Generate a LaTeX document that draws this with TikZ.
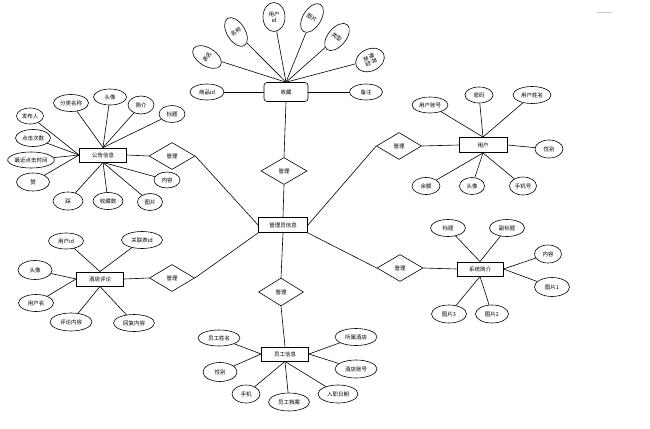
\documentclass[tikz,border=0pt]{standalone}
\usepackage{fontspec}
\newfontfamily\cjk{Noto Sans CJK SC}
\usetikzlibrary{shapes.geometric}
\begin{document}
\begin{tikzpicture}[x=1pt,y=-1pt,
  every node/.style={font=\cjk\fontsize{5.5}{6.5}\selectfont},
  attr/.style={ellipse,draw,line width=0.6pt,inner sep=0pt},
  ent/.style={rectangle,draw,line width=0.9pt,minimum width=47pt,minimum height=14pt,inner sep=0pt},
  rel/.style={diamond,draw,line width=0.6pt,aspect=1.7,minimum width=46pt,minimum height=27pt,inner sep=0pt},
  ln/.style={line width=0.6pt}]
\useasboundingbox (0,0) rectangle (650,428);
\fill[white] (0,0) rectangle (650,428);

% ---------- 收藏 ----------
\node[draw,rounded corners=3pt,line width=0.6pt,minimum width=44pt,minimum height=19pt,inner sep=0pt] (sc) at (286,92) {收藏};
\node[attr,minimum width=34pt,minimum height=16pt] (s1) at (207,92) {商品id};
\node[attr,minimum width=33pt,minimum height=16pt] (s2) at (366,92) {备注};
\node[attr,minimum width=18pt,minimum height=32pt,rotate=58] (s3) at (207,57) {表名};
\node[attr,minimum width=18pt,minimum height=32pt,rotate=32] (s4) at (236,32) {名称};
\node[attr,minimum width=22pt,minimum height=29pt,align=center] (s5) at (274,17) {用户\\id};
\node[attr,minimum width=18pt,minimum height=32pt,rotate=-32] (s6) at (312,18) {图片};
\node[attr,minimum width=18pt,minimum height=32pt,rotate=-40] (s7) at (337,37) {类型};
\node[attr,minimum width=22pt,minimum height=30pt,rotate=-65,align=center] (s8) at (370,60) {推荐\\类型};
\draw[ln] (s1) -- (sc.west);
\draw[ln] (s2) -- (sc.east);
\foreach \n in {s3,s4,s5,s6,s7,s8} \draw[ln] (\n) -- (sc.north);

% ---------- 管理员信息 ----------
\node[ent,minimum width=49pt,minimum height=15pt] (gly) at (283,225) {管理员信息};
\node[rel] (r1) at (284,171) {管理};
\draw[ln] (sc.south) -- (r1.north);
\draw[ln] (r1.south) -- (gly.north);

% ---------- 公告信息 ----------
\node[ent] (gg) at (103,155) {公告信息};
\node[attr,minimum width=35pt,minimum height=17pt] (g1) at (71,103) {分类名称};
\node[attr,minimum width=33pt,minimum height=16pt] (g2) at (110,97) {头像};
\node[attr,minimum width=26pt,minimum height=18pt] (g3) at (141,105) {简介};
\node[attr,minimum width=26pt,minimum height=17pt] (g4) at (172,114) {标题};
\node[attr,minimum width=27pt,minimum height=16pt] (g5) at (30,116) {发布人};
\node[attr,minimum width=35pt,minimum height=17pt] (g6) at (33,138) {点击次数};
\node[attr,minimum width=45pt,minimum height=16pt] (g7) at (31,160) {最近点击时间};
\node[attr,minimum width=33pt,minimum height=18pt] (g8) at (33,182) {赞};
\node[attr,minimum width=30pt,minimum height=18pt] (g9) at (68,201) {踩};
\node[attr,minimum width=30pt,minimum height=17pt] (g10) at (108,201) {收藏数};
\node[attr,minimum width=25pt,minimum height=17pt] (g11) at (150,202) {图片};
\node[attr,minimum width=26pt,minimum height=16pt] (g12) at (167,180) {内容};
\foreach \n in {g1,g2,g3,g4} \draw[ln] (\n) -- (gg.north);
\foreach \n in {g5,g6,g7,g8} \draw[ln] (\n) -- (gg.west);
\foreach \n in {g9,g10,g11,g12} \draw[ln] (\n) -- (gg.south);
\node[rel] (r2) at (172,156) {管理};
\draw[ln] (gg.east) -- (r2.west);
\draw[ln] (r2.east) -- (gly.west);

% ---------- 用户 ----------
\node[ent,minimum width=48pt,minimum height=15pt] (yh) at (483,145) {用户};
\node[attr,minimum width=36pt,minimum height=16pt] (y1) at (430,105) {用户账号};
\node[attr,minimum width=28pt,minimum height=16pt] (y2) at (479,95) {密码};
\node[attr,minimum width=38pt,minimum height=17pt] (y3) at (532,95) {用户姓名};
\node[attr,minimum width=28pt,minimum height=18pt] (y4) at (549,149) {性别};
\node[attr,minimum width=27pt,minimum height=18pt] (y5) at (523,186) {手机号};
\node[attr,minimum width=25pt,minimum height=17pt] (y6) at (472,186) {头像};
\node[attr,minimum width=28pt,minimum height=17pt] (y7) at (426,186) {余额};
\foreach \n in {y1,y2,y3} \draw[ln] (\n) -- (yh.north);
\draw[ln] (y4) -- (yh.east);
\foreach \n in {y5,y6,y7} \draw[ln] (\n) -- (yh.south);
\node[rel,minimum width=45pt] (r3) at (399,146) {管理};
\draw[ln] (r3.east) -- (yh.west);
\draw[ln] (r3.west) -- (gly.east);

% ---------- 酒店评论 ----------
\node[ent,minimum height=14pt] (pl) at (100,279) {酒店评论};
\node[attr,minimum width=35pt,minimum height=16pt] (p1) at (66,241) {用户id};
\node[attr,minimum width=41pt,minimum height=17pt] (p2) at (142,240) {关联表id};
\node[attr,minimum width=34pt,minimum height=19pt] (p3) at (35,270) {头像};
\node[attr,minimum width=35pt,minimum height=17pt] (p4) at (36,303) {用户名};
\node[attr,minimum width=42pt,minimum height=18pt] (p5) at (71,322) {评论内容};
\node[attr,minimum width=41pt,minimum height=17pt] (p6) at (134,323) {回复内容};
\foreach \n in {p1,p2} \draw[ln] (\n) -- (pl.north);
\foreach \n in {p3,p4} \draw[ln] (\n) -- (pl.west);
\foreach \n in {p5,p6} \draw[ln] (\n) -- (pl.south);
\node[rel,minimum width=45pt] (r4) at (172,278) {管理};
\draw[ln] (pl.east) -- (r4.west);
\draw[ln] (r4.east) -- (gly.south west);

% ---------- 系统简介 ----------
\node[ent,minimum width=46pt] (jj) at (480,269) {系统简介};
\node[attr,minimum width=35pt,minimum height=17pt] (j1) at (448,228) {标题};
\node[attr,minimum width=35pt,minimum height=17pt] (j2) at (507,228) {副标题};
\node[attr,minimum width=27pt,minimum height=18pt] (j3) at (548,254) {内容};
\node[attr,minimum width=35pt,minimum height=19pt] (j4) at (552,287) {图片1};
\node[attr,minimum width=33pt,minimum height=18pt] (j5) at (492,314) {图片2};
\node[attr,minimum width=35pt,minimum height=18pt] (j6) at (449,314) {图片3};
\foreach \n in {j1,j2} \draw[ln] (\n) -- (jj.north);
\foreach \n in {j3,j4} \draw[ln] (\n) -- (jj.east);
\foreach \n in {j5,j6} \draw[ln] (\n) -- (jj.south);
\node[rel] (r5) at (400,268) {管理};
\draw[ln] (r5.east) -- (jj.west);
\draw[ln] (r5.west) -- (gly.south east);

% ---------- 员工信息 ----------
\node[ent] (yg) at (285,354) {员工信息};
\node[attr,minimum width=42pt,minimum height=16pt] (e1) at (219,338) {员工姓名};
\node[attr,minimum width=34pt,minimum height=19pt] (e2) at (220,372) {性别};
\node[attr,minimum width=28pt,minimum height=18pt] (e3) at (246,394) {手机};
\node[attr,minimum width=41pt,minimum height=18pt] (e4) at (289,402) {员工档案};
\node[attr,minimum width=40pt,minimum height=18pt] (e5) at (338,394) {入职日期};
\node[attr,minimum width=42pt,minimum height=17pt] (e6) at (356,337) {所属酒店};
\node[attr,minimum width=42pt,minimum height=18pt] (e7) at (356,369) {酒店账号};
\foreach \n in {e1,e2} \draw[ln] (\n) -- (yg.west);
\foreach \n in {e3,e4,e5} \draw[ln] (\n) -- (yg.south);
\foreach \n in {e6,e7} \draw[ln] (\n) -- (yg.east);
\node[rel,minimum width=45pt,minimum height=28pt] (r6) at (281,292) {管理};
\draw[ln] (gly.south) -- (r6.north);
\draw[ln] (r6.south) -- (yg.north);

\draw[gray!40,line width=0.6pt] (597,12) -- (612,12);
\end{tikzpicture}
\end{document}
